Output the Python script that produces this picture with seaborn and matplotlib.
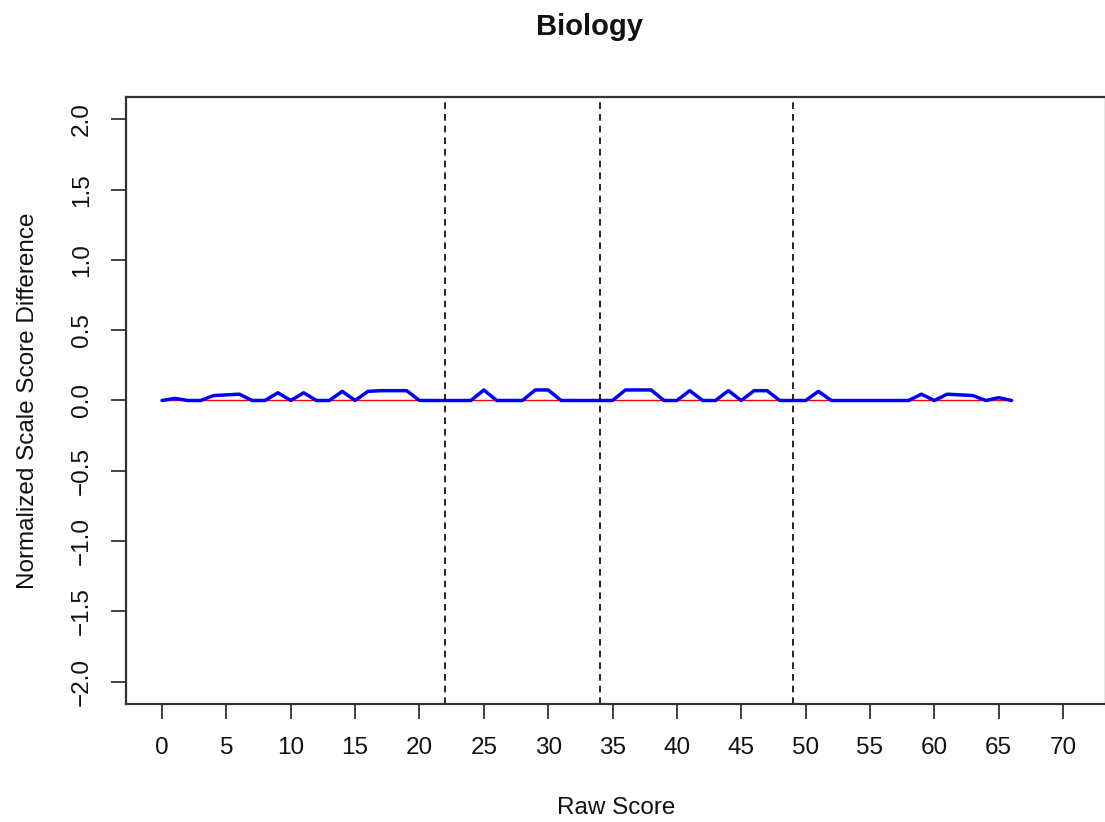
import numpy as np
import pandas as pd
import seaborn as sns
import matplotlib
matplotlib.use("Agg")
import matplotlib.pyplot as plt

# 数据
raw_score = list(range(0, 67))
scale_diff = [0, 0.015, 0, 0, 0.035, 0.04, 0.045, 0, 0, 0.055,
              0, 0.055, 0, 0, 0.065, 0, 0.065, 0.07, 0.07, 0.07,
              0, 0, 0, 0, 0, 0.075, 0, 0, 0, 0.075,
              0.075, 0, 0, 0, 0, 0, 0.075, 0.075, 0.075, 0,
              0, 0.07, 0, 0, 0.07, 0, 0.07, 0.07, 0, 0,
              0, 0.065, 0, 0, 0, 0, 0, 0, 0, 0.045,
              0, 0.045, 0.04, 0.035, 0, 0.02, 0]
cut_scores = [22, 34, 49]
x_ticks = list(range(0, 75, 5))
y_ticks = [-2.0, -1.5, -1.0, -0.5, 0.0, 0.5, 1.0, 1.5, 2.0]

df = pd.DataFrame({"raw": raw_score, "diff": scale_diff, "zero": [0] * len(raw_score)})

sns.set_style("ticks")
plt.rcParams['font.family'] = ['Liberation Sans', 'DejaVu Sans']

fig = plt.figure(figsize=(11.05, 8.22), dpi=100)
ax = fig.add_axes([126 / 1105, 1 - 704 / 822, 980 / 1105, 607 / 822])

# 零线和差值曲线
sns.lineplot(data=df, x="raw", y="zero", color="red", linewidth=1.0, ax=ax)
sns.lineplot(data=df, x="raw", y="diff", color="blue", linewidth=2.5, ax=ax)
for c in cut_scores:
    ax.axvline(c, color="black", linestyle=(0, (4, 3)), linewidth=1.2)

x0 = -2.8
x1 = x0 + 980 / 12.871
ax.set_xlim(x0, x1)
ax.set_ylim(-2.16, 2.16)
ax.set_xticks(x_ticks)
ax.set_yticks(y_ticks)
ax.set_yticklabels([f"{v:.1f}".replace("-", "\u2212") for v in y_ticks], rotation=90, va="center")
ax.tick_params(axis="both", labelsize=17.5, length=11, width=1.3, color="#333333",
               labelcolor="#111111", pad=13)

for s in ax.spines.values():
    s.set_linewidth(1.6)
    s.set_color("#333333")

ax.set_xlabel("Raw Score", fontsize=17.5, labelpad=27, color="#111111")
ax.set_ylabel("Normalized Scale Score Difference", fontsize=17.5, labelpad=23, color="#111111")
fig.text(590 / 1105, 1 - 27 / 822, "Biology", fontsize=21, fontweight="bold",
         ha="center", va="center", color="#111111")

plt.savefig("out.png", dpi=100)
